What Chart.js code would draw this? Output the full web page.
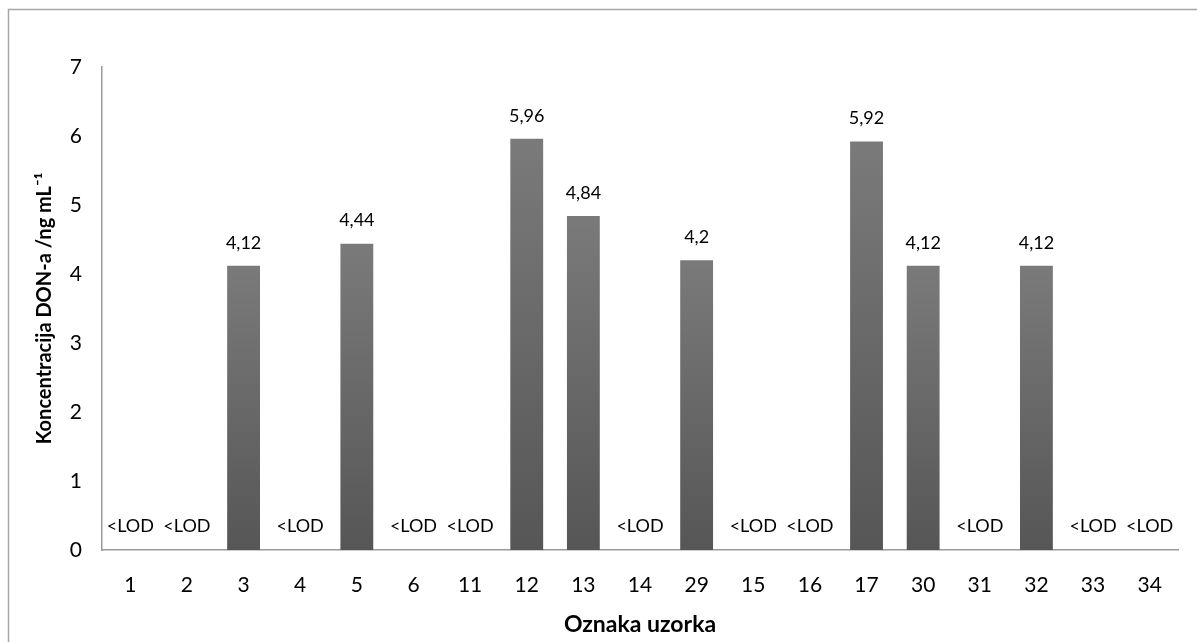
<!DOCTYPE html>
<html>
<head>
<meta charset="utf-8">
<script src="https://cdn.jsdelivr.net/npm/chart.js@4"></script>
<style>
  html, body { margin: 0; padding: 0; background: #fff; }
  #wrap { width: 1197px; height: 642px; position: relative; }
</style>
</head>
<body>
<div id="wrap"><canvas id="barchart"></canvas></div>
<script>
// data (null = below limit of detection)
var sampleLabels = ['1', '2', '3', '4', '5', '6', '11', '12', '13', '14', '29', '15', '16', '17', '30', '31', '32', '33', '34'];
var donValues = [null, null, 4.12, null, 4.44, null, null, 5.96, 4.84, null, 4.2, null, null, 5.92, 4.12, null, 4.12, null, null];
var yTicks = [0, 1, 2, 3, 4, 5, 6, 7];
var lodText = '<LOD';

var fontFam = 'Lato, "Open Sans", sans-serif';

// bar fill: light grey on top fading to darker grey at the base
function barFill(context) {
    var chart = context.chart;
    if (!chart.chartArea) return '#666';
    var v = context.raw;
    if (v == null) return '#666';
    var y = chart.scales.y;
    var g = chart.ctx.createLinearGradient(0, y.getPixelForValue(v), 0, y.getPixelForValue(0));
    g.addColorStop(0, '#7a7a7a');
    g.addColorStop(1, '#565656');
    return g;
}

// outer frame (only left and top edges are visible)
var framePlugin = {
    id: 'frame',
    beforeDraw: function (chart) {
        var c = chart.ctx;
        c.save();
        c.strokeStyle = '#a6a6a6';
        c.lineWidth = 1.5;
        c.beginPath();
        c.moveTo(8.5, 642);
        c.lineTo(8.5, 9.5);
        c.lineTo(1197, 9.5);
        c.stroke();
        c.restore();
    }
};

// value labels above bars, <LOD above the axis
var labelPlugin = {
    id: 'valueLabels',
    afterDatasetsDraw: function (chart) {
        var c = chart.ctx;
        var meta = chart.getDatasetMeta(0);
        var base = chart.scales.y.getPixelForValue(0);
        c.save();
        c.fillStyle = '#000';
        c.font = '18px ' + fontFam;
        c.textAlign = 'center';
        c.textBaseline = 'middle';
        meta.data.forEach(function (bar, i) {
            var v = donValues[i];
            if (v == null) {
                c.fillText(lodText, bar.x, base - 24);
            } else {
                c.fillText(String(v).replace('.', ','), bar.x, chart.scales.y.getPixelForValue(v) - 23);
            }
        });
        c.restore();
    }
};

var chart1 = document.getElementById('barchart');

var myChart1 = new Chart(chart1, {
type: 'bar',
data: {
    labels: sampleLabels,
    datasets: [{
        data: donValues,
        backgroundColor: barFill,
        borderWidth: 0,
        barPercentage: 0.58,
        categoryPercentage: 1.0
    }]
},
options: {
    responsive: true,
    maintainAspectRatio: false,
    animation: false,
    layout: {
        padding: { left: 0, right: 19, top: 67, bottom: 0 }
    },
    scales: {
        x: {
            grid: { display: false, drawTicks: false },
            border: { display: true, color: '#9a9a9a', width: 1.5 },
            ticks: {
                color: '#000',
                font: { family: fontFam, size: 21 },
                padding: 23,
                maxRotation: 0
            },
            title: {
                display: true,
                text: 'Oznaka uzorka',
                color: '#000',
                font: { family: fontFam, size: 23, weight: 'bold' },
                padding: { top: 0, bottom: 4 }
            },
            afterFit: function (scale) { scale.height = 642 - 550; }
        },
        y: {
            min: 0,
            max: 7,
            afterBuildTicks: function (scale) {
                scale.ticks = yTicks.map(function (v) { return { value: v }; });
            },
            grid: { display: false, drawTicks: false },
            border: { display: true, color: '#9a9a9a', width: 1.5 },
            ticks: {
                color: '#000',
                font: { family: fontFam, size: 21 },
                padding: 20
            },
            title: {
                display: true,
                text: 'Koncentracija DON-a /ng mL\u207B\u00B9',
                color: '#000',
                font: { family: fontFam, size: 20, weight: 'bold' },
                padding: { top: 33, bottom: 0 }
            },
            afterFit: function (scale) { scale.width = 102; }
        }
    },
    plugins: {
        legend: { display: false },
        tooltip: { enabled: false }
    }
},
plugins: [framePlugin, labelPlugin]
});
</script>
</body>
</html>
